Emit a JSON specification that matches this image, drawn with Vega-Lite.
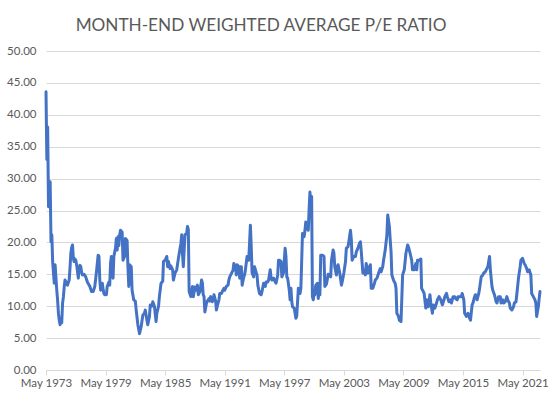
{
"$schema": "https://vega.github.io/schema/vega-lite/v6.json",
"width": 494, "height": 319,
"autosize": {"type": "none"},
"padding": {"left": 46, "top": 51, "right": 14, "bottom": 28},
"background": "white",
"title": {"text": "MONTH-END WEIGHTED AVERAGE P/E RATIO", "font": "Lato", "fontSize": 17.2, "fontWeight": "normal", "color": "#595959", "anchor": "middle", "dx": -32, "offset": 11},
"data": {"values": [
{"d":"1973-05-01","pe":43.6},{"d":"1973-06-01","pe":33.0},{"d":"1973-07-01","pe":38.1},{"d":"1973-08-01","pe":25.6},{"d":"1973-09-01","pe":27.5},{"d":"1973-10-01","pe":29.5},{"d":"1973-11-01","pe":20.1},{"d":"1973-12-01","pe":21.2},
{"d":"1974-01-01","pe":17.0},{"d":"1974-02-01","pe":15.2},{"d":"1974-03-01","pe":13.6},{"d":"1974-04-01","pe":16.5},{"d":"1974-05-01","pe":14.5},{"d":"1974-06-01","pe":12.5},{"d":"1974-07-01","pe":11.0},{"d":"1974-08-01","pe":8.9},{"d":"1974-09-01","pe":7.8},{"d":"1974-10-01","pe":7.1},{"d":"1974-11-01","pe":7.6},{"d":"1974-12-01","pe":7.4},
{"d":"1975-01-01","pe":10.5},{"d":"1975-02-01","pe":11.5},{"d":"1975-03-01","pe":13.0},{"d":"1975-04-01","pe":14.1},{"d":"1975-06-01","pe":13.5},{"d":"1975-07-01","pe":13.3},{"d":"1975-09-01","pe":14.1},{"d":"1975-10-01","pe":16.0},{"d":"1975-11-01","pe":18.3},{"d":"1975-12-01","pe":19.2},
{"d":"1976-01-01","pe":19.6},{"d":"1976-02-01","pe":17.5},{"d":"1976-03-01","pe":17.0},{"d":"1976-04-01","pe":17.4},{"d":"1976-05-01","pe":17.2},{"d":"1976-06-01","pe":16.5},{"d":"1976-07-01","pe":15.5},{"d":"1976-08-01","pe":14.4},{"d":"1976-09-01","pe":16.0},{"d":"1976-10-01","pe":16.4},{"d":"1976-11-01","pe":16.2},{"d":"1976-12-01","pe":15.3},
{"d":"1977-01-01","pe":14.9},{"d":"1977-03-01","pe":15.0},{"d":"1977-05-01","pe":14.6},{"d":"1977-07-01","pe":13.8},{"d":"1977-09-01","pe":13.3},{"d":"1977-10-01","pe":13.1},{"d":"1977-12-01","pe":12.3},
{"d":"1978-02-01","pe":12.3},{"d":"1978-04-01","pe":13.1},{"d":"1978-06-01","pe":15.4},{"d":"1978-08-01","pe":18.0},{"d":"1978-09-01","pe":17.8},{"d":"1978-10-01","pe":14.1},{"d":"1978-11-01","pe":12.5},{"d":"1978-12-01","pe":13.0},
{"d":"1979-01-01","pe":13.6},{"d":"1979-02-01","pe":12.6},{"d":"1979-03-01","pe":12.0},{"d":"1979-04-01","pe":11.8},{"d":"1979-06-01","pe":11.8},{"d":"1979-07-01","pe":13.1},{"d":"1979-09-01","pe":13.8},{"d":"1979-10-01","pe":13.3},{"d":"1979-11-01","pe":16.8},{"d":"1979-12-01","pe":17.8},
{"d":"1980-01-01","pe":15.7},{"d":"1980-02-01","pe":14.4},{"d":"1980-03-01","pe":17.8},{"d":"1980-05-01","pe":19.1},{"d":"1980-06-01","pe":20.6},{"d":"1980-07-01","pe":18.8},{"d":"1980-08-01","pe":20.9},{"d":"1980-09-01","pe":19.5},{"d":"1980-10-01","pe":21.2},{"d":"1980-11-01","pe":21.9},
{"d":"1981-01-01","pe":21.6},{"d":"1981-02-01","pe":17.2},{"d":"1981-04-01","pe":17.8},{"d":"1981-05-01","pe":20.6},{"d":"1981-07-01","pe":20.3},{"d":"1981-08-01","pe":16.2},{"d":"1981-09-01","pe":13.1},{"d":"1981-10-01","pe":16.5},{"d":"1981-12-01","pe":16.2},
{"d":"1982-01-01","pe":12.5},{"d":"1982-03-01","pe":11.0},{"d":"1982-05-01","pe":10.8},{"d":"1982-06-01","pe":9.4},{"d":"1982-08-01","pe":7.1},{"d":"1982-10-01","pe":5.7},{"d":"1982-12-01","pe":6.8},
{"d":"1983-02-01","pe":8.6},{"d":"1983-04-01","pe":8.9},{"d":"1983-05-01","pe":9.4},{"d":"1983-07-01","pe":7.8},{"d":"1983-08-01","pe":7.1},{"d":"1983-10-01","pe":8.4},{"d":"1983-11-01","pe":10.2},
{"d":"1984-01-01","pe":10.0},{"d":"1984-02-01","pe":10.7},{"d":"1984-04-01","pe":10.0},{"d":"1984-06-01","pe":7.6},{"d":"1984-07-01","pe":8.9},{"d":"1984-09-01","pe":10.0},{"d":"1984-10-01","pe":11.5},{"d":"1984-12-01","pe":13.6},
{"d":"1985-02-01","pe":13.9},{"d":"1985-03-01","pe":17.0},{"d":"1985-05-01","pe":17.2},{"d":"1985-07-01","pe":17.8},{"d":"1985-08-01","pe":16.2},{"d":"1985-09-01","pe":17.0},{"d":"1985-11-01","pe":15.9},{"d":"1985-12-01","pe":16.3},
{"d":"1986-02-01","pe":15.7},{"d":"1986-03-01","pe":14.1},{"d":"1986-05-01","pe":15.2},{"d":"1986-07-01","pe":15.7},{"d":"1986-09-01","pe":17.5},{"d":"1986-11-01","pe":19.1},{"d":"1986-12-01","pe":19.8},
{"d":"1987-01-01","pe":21.2},{"d":"1987-02-01","pe":18.0},{"d":"1987-03-01","pe":16.2},{"d":"1987-04-01","pe":18.8},{"d":"1987-05-01","pe":21.2},{"d":"1987-07-01","pe":21.4},{"d":"1987-08-01","pe":22.5},{"d":"1987-09-01","pe":22.0},{"d":"1987-10-01","pe":12.3},{"d":"1987-12-01","pe":11.5},
{"d":"1988-02-01","pe":13.1},{"d":"1988-03-01","pe":11.5},{"d":"1988-05-01","pe":13.0},{"d":"1988-06-01","pe":12.5},{"d":"1988-08-01","pe":13.3},{"d":"1988-09-01","pe":11.8},{"d":"1988-11-01","pe":12.3},
{"d":"1989-01-01","pe":14.1},{"d":"1989-02-01","pe":13.6},{"d":"1989-03-01","pe":11.8},{"d":"1989-04-01","pe":11.5},{"d":"1989-05-01","pe":9.1},{"d":"1989-07-01","pe":10.5},{"d":"1989-08-01","pe":10.8},{"d":"1989-10-01","pe":11.2},{"d":"1989-11-01","pe":10.8},{"d":"1989-12-01","pe":11.5},
{"d":"1990-02-01","pe":10.7},{"d":"1990-03-01","pe":11.0},{"d":"1990-04-01","pe":11.8},{"d":"1990-06-01","pe":10.8},{"d":"1990-07-01","pe":9.4},{"d":"1990-08-01","pe":10.0},{"d":"1990-10-01","pe":11.0},{"d":"1990-11-01","pe":12.0},
{"d":"1991-01-01","pe":12.0},{"d":"1991-02-01","pe":12.3},{"d":"1991-04-01","pe":12.8},{"d":"1991-05-01","pe":12.5},{"d":"1991-07-01","pe":13.1},{"d":"1991-09-01","pe":13.3},{"d":"1991-10-01","pe":14.1},{"d":"1991-11-01","pe":14.6},
{"d":"1992-01-01","pe":15.1},{"d":"1992-02-01","pe":15.4},{"d":"1992-03-01","pe":15.6},{"d":"1992-04-01","pe":16.7},{"d":"1992-06-01","pe":16.2},{"d":"1992-07-01","pe":14.9},{"d":"1992-08-01","pe":16.5},{"d":"1992-10-01","pe":16.2},{"d":"1992-11-01","pe":14.4},{"d":"1992-12-01","pe":16.2},
{"d":"1993-01-01","pe":16.2},{"d":"1993-02-01","pe":13.3},{"d":"1993-04-01","pe":14.6},{"d":"1993-05-01","pe":14.9},{"d":"1993-06-01","pe":15.7},{"d":"1993-08-01","pe":17.8},{"d":"1993-10-01","pe":17.2},{"d":"1993-11-01","pe":19.9},{"d":"1993-12-01","pe":22.7},
{"d":"1994-01-01","pe":19.3},{"d":"1994-02-01","pe":15.2},{"d":"1994-04-01","pe":14.6},{"d":"1994-05-01","pe":16.2},{"d":"1994-07-01","pe":15.3},{"d":"1994-08-01","pe":14.9},{"d":"1994-09-01","pe":13.3},{"d":"1994-11-01","pe":12.0},
{"d":"1995-01-01","pe":11.8},{"d":"1995-02-01","pe":12.3},{"d":"1995-04-01","pe":13.6},{"d":"1995-06-01","pe":13.1},{"d":"1995-07-01","pe":13.8},{"d":"1995-09-01","pe":13.8},{"d":"1995-10-01","pe":14.1},{"d":"1995-12-01","pe":15.7},
{"d":"1996-01-01","pe":14.4},{"d":"1996-02-01","pe":14.1},{"d":"1996-04-01","pe":14.4},{"d":"1996-06-01","pe":13.8},{"d":"1996-07-01","pe":13.6},{"d":"1996-09-01","pe":14.9},{"d":"1996-10-01","pe":17.2},{"d":"1996-11-01","pe":17.2},
{"d":"1997-01-01","pe":17.0},{"d":"1997-02-01","pe":14.6},{"d":"1997-04-01","pe":15.2},{"d":"1997-05-01","pe":17.2},{"d":"1997-06-01","pe":19.1},{"d":"1997-07-01","pe":17.8},{"d":"1997-08-01","pe":14.6},{"d":"1997-09-01","pe":14.4},{"d":"1997-11-01","pe":12.5},{"d":"1997-12-01","pe":11.0},
{"d":"1998-01-01","pe":12.8},{"d":"1998-02-01","pe":10.7},{"d":"1998-03-01","pe":9.9},{"d":"1998-05-01","pe":9.7},{"d":"1998-06-01","pe":8.9},{"d":"1998-07-01","pe":8.1},{"d":"1998-08-01","pe":8.4},{"d":"1998-10-01","pe":12.8},{"d":"1998-11-01","pe":12.5},{"d":"1998-12-01","pe":12.0},
{"d":"1999-01-01","pe":12.8},{"d":"1999-02-01","pe":17.2},{"d":"1999-03-01","pe":21.4},{"d":"1999-05-01","pe":20.9},{"d":"1999-06-01","pe":21.9},{"d":"1999-07-01","pe":23.2},{"d":"1999-08-01","pe":22.2},{"d":"1999-10-01","pe":21.9},{"d":"1999-11-01","pe":25.3},{"d":"1999-12-01","pe":27.9},
{"d":"2000-01-01","pe":26.1},{"d":"2000-02-01","pe":27.2},{"d":"2000-03-01","pe":11.5},{"d":"2000-04-01","pe":11.0},{"d":"2000-05-01","pe":12.0},{"d":"2000-06-01","pe":11.8},{"d":"2000-07-01","pe":13.3},{"d":"2000-09-01","pe":13.6},{"d":"2000-10-01","pe":11.2},{"d":"2000-11-01","pe":12.3},{"d":"2000-12-01","pe":11.8},
{"d":"2001-01-01","pe":18.0},{"d":"2001-03-01","pe":18.0},{"d":"2001-05-01","pe":17.8},{"d":"2001-06-01","pe":13.1},{"d":"2001-08-01","pe":13.5},{"d":"2001-10-01","pe":15.0},{"d":"2001-11-01","pe":14.9},
{"d":"2002-01-01","pe":14.6},{"d":"2002-02-01","pe":17.2},{"d":"2002-04-01","pe":18.8},{"d":"2002-05-01","pe":18.3},{"d":"2002-06-01","pe":16.2},{"d":"2002-08-01","pe":14.9},{"d":"2002-09-01","pe":16.2},{"d":"2002-10-01","pe":16.5},{"d":"2002-12-01","pe":15.2},
{"d":"2003-02-01","pe":13.3},{"d":"2003-03-01","pe":13.8},{"d":"2003-05-01","pe":15.2},{"d":"2003-07-01","pe":17.0},{"d":"2003-08-01","pe":19.1},{"d":"2003-10-01","pe":19.3},{"d":"2003-11-01","pe":20.1},
{"d":"2004-01-01","pe":21.9},{"d":"2004-02-01","pe":20.4},{"d":"2004-03-01","pe":17.2},{"d":"2004-05-01","pe":17.8},{"d":"2004-07-01","pe":17.8},{"d":"2004-08-01","pe":18.5},{"d":"2004-10-01","pe":19.1},{"d":"2004-12-01","pe":19.9},
{"d":"2005-01-01","pe":20.1},{"d":"2005-02-01","pe":18.5},{"d":"2005-04-01","pe":15.2},{"d":"2005-05-01","pe":15.7},{"d":"2005-07-01","pe":14.9},{"d":"2005-08-01","pe":16.7},{"d":"2005-10-01","pe":15.2},{"d":"2005-12-01","pe":16.2},
{"d":"2006-01-01","pe":16.5},{"d":"2006-02-01","pe":12.8},{"d":"2006-04-01","pe":12.8},{"d":"2006-06-01","pe":13.6},{"d":"2006-07-01","pe":14.1},{"d":"2006-09-01","pe":14.4},{"d":"2006-11-01","pe":15.2},
{"d":"2007-01-01","pe":15.9},{"d":"2007-02-01","pe":15.4},{"d":"2007-04-01","pe":16.2},{"d":"2007-05-01","pe":17.2},{"d":"2007-07-01","pe":18.8},{"d":"2007-09-01","pe":21.2},{"d":"2007-10-01","pe":24.3},{"d":"2007-12-01","pe":22.5},
{"d":"2008-01-01","pe":20.4},{"d":"2008-02-01","pe":18.5},{"d":"2008-03-01","pe":14.9},{"d":"2008-05-01","pe":14.1},{"d":"2008-06-01","pe":13.8},{"d":"2008-07-01","pe":13.6},{"d":"2008-08-01","pe":12.8},{"d":"2008-09-01","pe":8.9},{"d":"2008-11-01","pe":8.4},{"d":"2008-12-01","pe":7.8},
{"d":"2009-02-01","pe":7.6},{"d":"2009-03-01","pe":11.0},{"d":"2009-04-01","pe":14.9},{"d":"2009-06-01","pe":15.7},{"d":"2009-07-01","pe":17.0},{"d":"2009-08-01","pe":18.3},{"d":"2009-10-01","pe":19.6},{"d":"2009-11-01","pe":19.3},
{"d":"2010-01-01","pe":18.3},{"d":"2010-03-01","pe":17.2},{"d":"2010-04-01","pe":15.7},{"d":"2010-06-01","pe":15.7},{"d":"2010-08-01","pe":16.7},{"d":"2010-09-01","pe":15.7},{"d":"2010-10-01","pe":17.2},{"d":"2010-12-01","pe":17.2},
{"d":"2011-02-01","pe":17.4},{"d":"2011-03-01","pe":12.8},{"d":"2011-05-01","pe":12.3},{"d":"2011-06-01","pe":12.0},{"d":"2011-08-01","pe":9.7},{"d":"2011-09-01","pe":11.0},{"d":"2011-11-01","pe":9.9},
{"d":"2012-01-01","pe":11.8},{"d":"2012-02-01","pe":10.5},{"d":"2012-04-01","pe":8.9},{"d":"2012-05-01","pe":10.2},{"d":"2012-07-01","pe":9.7},{"d":"2012-09-01","pe":10.5},{"d":"2012-10-01","pe":11.0},{"d":"2012-12-01","pe":11.5},
{"d":"2013-02-01","pe":11.0},{"d":"2013-04-01","pe":10.2},{"d":"2013-06-01","pe":11.0},{"d":"2013-07-01","pe":11.5},{"d":"2013-09-01","pe":12.0},{"d":"2013-10-01","pe":11.5},{"d":"2013-12-01","pe":10.7},
{"d":"2014-02-01","pe":11.0},{"d":"2014-03-01","pe":10.5},{"d":"2014-05-01","pe":11.5},{"d":"2014-07-01","pe":11.5},{"d":"2014-08-01","pe":11.2},{"d":"2014-10-01","pe":11.0},{"d":"2014-11-01","pe":11.5},
{"d":"2015-01-01","pe":11.5},{"d":"2015-03-01","pe":11.5},{"d":"2015-04-01","pe":12.0},{"d":"2015-06-01","pe":11.0},{"d":"2015-07-01","pe":8.9},{"d":"2015-09-01","pe":8.4},{"d":"2015-11-01","pe":8.9},{"d":"2015-12-01","pe":8.4},
{"d":"2016-02-01","pe":7.8},{"d":"2016-04-01","pe":10.2},{"d":"2016-05-01","pe":10.5},{"d":"2016-07-01","pe":11.5},{"d":"2016-08-01","pe":11.8},{"d":"2016-10-01","pe":11.0},{"d":"2016-12-01","pe":12.0},
{"d":"2017-01-01","pe":12.8},{"d":"2017-03-01","pe":14.6},{"d":"2017-05-01","pe":14.9},{"d":"2017-06-01","pe":15.2},{"d":"2017-08-01","pe":15.4},{"d":"2017-09-01","pe":15.7},{"d":"2017-11-01","pe":16.2},
{"d":"2018-01-01","pe":17.8},{"d":"2018-02-01","pe":15.7},{"d":"2018-04-01","pe":13.1},{"d":"2018-05-01","pe":12.5},{"d":"2018-07-01","pe":11.8},{"d":"2018-09-01","pe":10.7},{"d":"2018-10-01","pe":10.5},{"d":"2018-12-01","pe":11.5},
{"d":"2019-02-01","pe":11.5},{"d":"2019-03-01","pe":10.5},{"d":"2019-05-01","pe":11.0},{"d":"2019-06-01","pe":10.5},{"d":"2019-08-01","pe":10.7},{"d":"2019-10-01","pe":11.5},{"d":"2019-11-01","pe":11.0},
{"d":"2020-01-01","pe":10.5},{"d":"2020-02-01","pe":9.7},{"d":"2020-04-01","pe":9.4},{"d":"2020-06-01","pe":9.9},{"d":"2020-07-01","pe":10.5},{"d":"2020-09-01","pe":10.7},{"d":"2020-11-01","pe":13.1},{"d":"2020-12-01","pe":14.4},
{"d":"2021-02-01","pe":16.2},{"d":"2021-03-01","pe":17.2},{"d":"2021-05-01","pe":17.5},{"d":"2021-07-01","pe":16.7},{"d":"2021-08-01","pe":16.5},{"d":"2021-10-01","pe":15.9},{"d":"2021-11-01","pe":15.4},
{"d":"2022-01-01","pe":15.7},{"d":"2022-03-01","pe":14.9},{"d":"2022-04-01","pe":12.0},{"d":"2022-06-01","pe":11.5},{"d":"2022-08-01","pe":11.0},{"d":"2022-09-01","pe":10.5},{"d":"2022-10-01","pe":8.4},{"d":"2022-12-01","pe":9.9},
{"d":"2023-01-01","pe":11.2},{"d":"2023-02-01","pe":12.3}
]},
"mark": {"type": "line", "color": "#4472C4", "strokeWidth": 3, "strokeJoin": "round", "strokeCap": "round"},
"encoding": {
  "x": {"field": "d", "type": "temporal",
    "scale": {"type": "utc", "nice": false, "domain": [{"year": 1973, "month": 5, "date": 1, "utc": true}, {"year": 2023, "month": 2, "date": 1, "utc": true}]},
    "axis": {"title": null, "grid": false,
      "values": [{"year": 1973, "month": 5, "date": 1, "utc": true}, {"year": 1979, "month": 5, "date": 1, "utc": true}, {"year": 1985, "month": 5, "date": 1, "utc": true}, {"year": 1991, "month": 5, "date": 1, "utc": true}, {"year": 1997, "month": 5, "date": 1, "utc": true}, {"year": 2003, "month": 5, "date": 1, "utc": true}, {"year": 2009, "month": 5, "date": 1, "utc": true}, {"year": 2015, "month": 5, "date": 1, "utc": true}, {"year": 2021, "month": 5, "date": 1, "utc": true}],
      "labelExpr": "utcFormat(datum.value, '%b %Y')",
      "domainColor": "#d9d9d9", "domainWidth": 1, "ticks": true, "tickColor": "#d9d9d9", "tickSize": 5, "tickWidth": 1,
      "labelFont": "Lato", "labelFontSize": 11.5, "labelColor": "#595959", "labelPadding": 2, "labelFlush": false, "labelOverlap": false}},
  "y": {"field": "pe", "type": "quantitative",
    "scale": {"domain": [0, 50], "nice": false},
    "axis": {"title": null, "values": [0, 5, 10, 15, 20, 25, 30, 35, 40, 45, 50], "format": ".2f",
      "grid": true, "gridColor": "#d9d9d9", "gridWidth": 1, "domain": false, "ticks": false,
      "labelPadding": 10, "labelFont": "Lato", "labelFontSize": 11.5, "labelColor": "#595959"}}
},
"config": {"view": {"stroke": null}}
}
